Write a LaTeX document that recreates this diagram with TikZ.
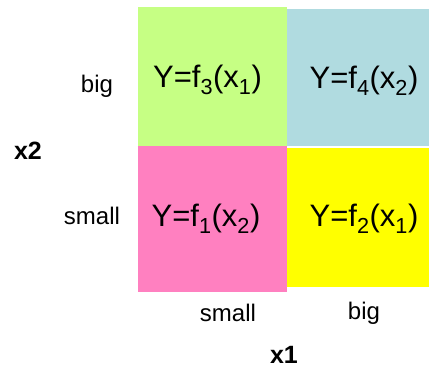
\documentclass[tikz,border=0pt]{standalone}
\usepackage{fontspec}
\setmainfont{Liberation Sans}
\usetikzlibrary{positioning}
\definecolor{cellgreen}{RGB}{198,255,132}
\definecolor{cellblue}{RGB}{176,219,224}
\definecolor{cellpink}{RGB}{255,128,192}
\definecolor{cellyellow}{RGB}{255,255,0}
\newcommand{\fsub}[1]{\textsubscript{#1}}
\begin{document}
\begin{tikzpicture}[x=1pt,y=-1pt,
    formula/.style={inner sep=0pt,font=\fontsize{31}{36}\selectfont},
    level/.style={inner sep=0pt,font=\fontsize{24}{28}\selectfont},
    axis/.style={inner sep=0pt,font=\fontsize{25}{30}\selectfont\bfseries}]
    \useasboundingbox (0,0) rectangle (429,369);
    \fill[cellgreen] (138.3,6.7) rectangle (286.7,146);
    \fill[cellblue] (286.7,9) rectangle (428.7,146);
    \fill[cellpink] (138.3,146) rectangle (286.7,292);
    \fill[cellyellow] (286.7,148) rectangle (428.7,287);
    %%
    \node[formula] (f3) at (207.5,80) {Y=f\fsub{3}(x\fsub{1})};
    \node[formula] (f4) at (364,81) {Y=f\fsub{4}(x\fsub{2})};
    \node[formula] (f1) at (206,219) {Y=f\fsub{1}(x\fsub{2})};
    \node[formula] (f2) at (364,219) {Y=f\fsub{2}(x\fsub{1})};
    %%
    \node[level] (x2big) at (97,86) {big};
    \node[level] (x2small) at (92,216) {small};
    \node[axis] (x2) at (28,151) {x2};
    \node[level] (x1small) at (228,313) {small};
    \node[level] (x1big) at (364,313) {big};
    \node[axis] (x1) at (284,355) {x1};
\end{tikzpicture}
\end{document}
